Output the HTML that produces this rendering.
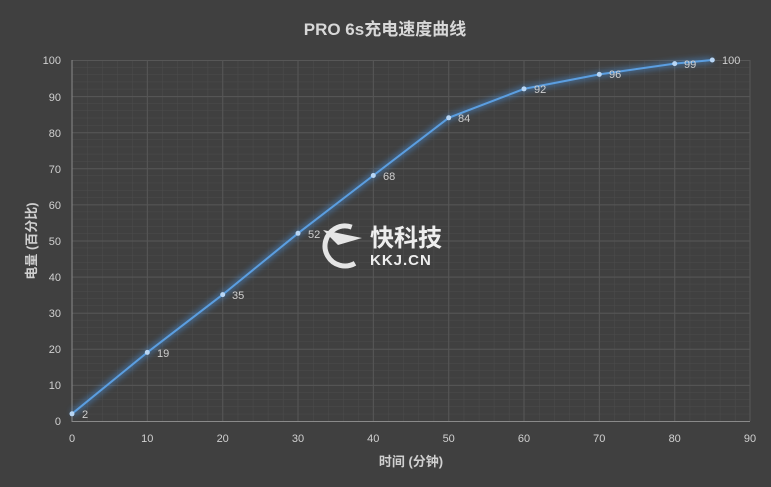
<!DOCTYPE html><html><head><meta charset="utf-8"><style>body{margin:0;background:#404040}svg{display:block}text{font-family:"Liberation Sans","Noto Sans CJK SC",sans-serif}</style></head><body>
<svg width="771" height="487" viewBox="0 0 771 487">
<defs><filter id="g" x="-10%" y="-10%" width="120%" height="120%"><feGaussianBlur stdDeviation="3"/></filter>
<pattern id="mx" width="15.066" height="7.22" patternUnits="userSpaceOnUse" x="72" y="60"><path d="M0 0V7.22M0 0H15.066" stroke="#4c4c4c" stroke-width="1" fill="none"/></pattern></defs>
<rect width="771" height="487" fill="#404040"/>
<rect x="72" y="60" width="678" height="361" fill="url(#mx)"/>
<g stroke="#575757" stroke-width="1">
<path d="M72 60.5H750M72 96.6H750M72 132.7H750M72 168.8H750M72 204.9H750M72 241H750M72 277.1H750M72 313.2H750M72 349.3H750M72 385.4H750"/>
<path d="M147.3 60V421M222.7 60V421M298 60V421M373.3 60V421M448.7 60V421M524 60V421M599.3 60V421M674.7 60V421M750 60V421"/>
</g>
<path d="M72 60V421.5H750" stroke="#8a8a8a" fill="none"/>
<text x="385" y="35" fill="#d8d8d8" font-size="17" font-weight="bold" text-anchor="middle">PRO 6s充电速度曲线</text>
<g fill="#d0d0d0" font-size="11" text-anchor="end">
<text x="61" y="425">0</text><text x="61" y="389">10</text><text x="61" y="353">20</text><text x="61" y="317">30</text><text x="61" y="281">40</text><text x="61" y="245">50</text><text x="61" y="209">60</text><text x="61" y="173">70</text><text x="61" y="137">80</text><text x="61" y="101">90</text><text x="61" y="64">100</text></g>
<g fill="#d0d0d0" font-size="11" text-anchor="middle">
<text x="72" y="442">0</text><text x="147.3" y="442">10</text><text x="222.7" y="442">20</text><text x="298" y="442">30</text><text x="373.3" y="442">40</text><text x="448.7" y="442">50</text><text x="524" y="442">60</text><text x="599.3" y="442">70</text><text x="674.7" y="442">80</text><text x="750" y="442">90</text></g>
<text x="411" y="466" fill="#d0d0d0" font-size="13" font-weight="bold" text-anchor="middle">时间 (分钟)</text>
<text transform="translate(36 241) rotate(-90)" fill="#d0d0d0" font-size="13" font-weight="bold" text-anchor="middle">电量 (百分比)</text>
<g opacity="0.95"><circle cx="345" cy="246" r="20" fill="none" stroke="#eee" stroke-width="5" stroke-dasharray="80 50" transform="rotate(60 345 246)"/><path d="M323 230L362 238L338 245Z" fill="#eee"/></g>
<text x="370" y="246" fill="#eee" font-size="24" font-weight="bold">快科技</text>
<text x="370" y="265" fill="#eee" font-size="15" font-weight="bold" letter-spacing="1">KKJ.CN</text>
<polyline points="72,413.8 147.3,352.4 222.7,294.6 298,233.3 373.3,175.5 448.7,117.8 524,88.9 599.3,74.4 674.7,63.6 712.3,60" fill="none" stroke="#4a8fd8" stroke-width="6" opacity="0.5" filter="url(#g)"/>
<polyline points="72,413.8 147.3,352.4 222.7,294.6 298,233.3 373.3,175.5 448.7,117.8 524,88.9 599.3,74.4 674.7,63.6 712.3,60" fill="none" stroke="#5b9ee0" stroke-width="2"/>
<g fill="#b8d6f5"><circle cx="72" cy="413.8" r="2.5"/><circle cx="147.3" cy="352.4" r="2.5"/><circle cx="222.7" cy="294.6" r="2.5"/><circle cx="298" cy="233.3" r="2.5"/><circle cx="373.3" cy="175.5" r="2.5"/><circle cx="448.7" cy="117.8" r="2.5"/><circle cx="524" cy="88.9" r="2.5"/><circle cx="599.3" cy="74.4" r="2.5"/><circle cx="674.7" cy="63.6" r="2.5"/><circle cx="712.3" cy="60" r="2.5"/></g>
<g fill="#cfcfcf" font-size="11">
<text x="82" y="418">2</text><text x="157" y="357">19</text><text x="232" y="299">35</text><text x="308" y="238">52</text><text x="383" y="180">68</text><text x="458" y="122">84</text><text x="534" y="93">92</text><text x="609" y="78">96</text><text x="684" y="68">99</text><text x="722" y="64">100</text></g>
</svg></body></html>
